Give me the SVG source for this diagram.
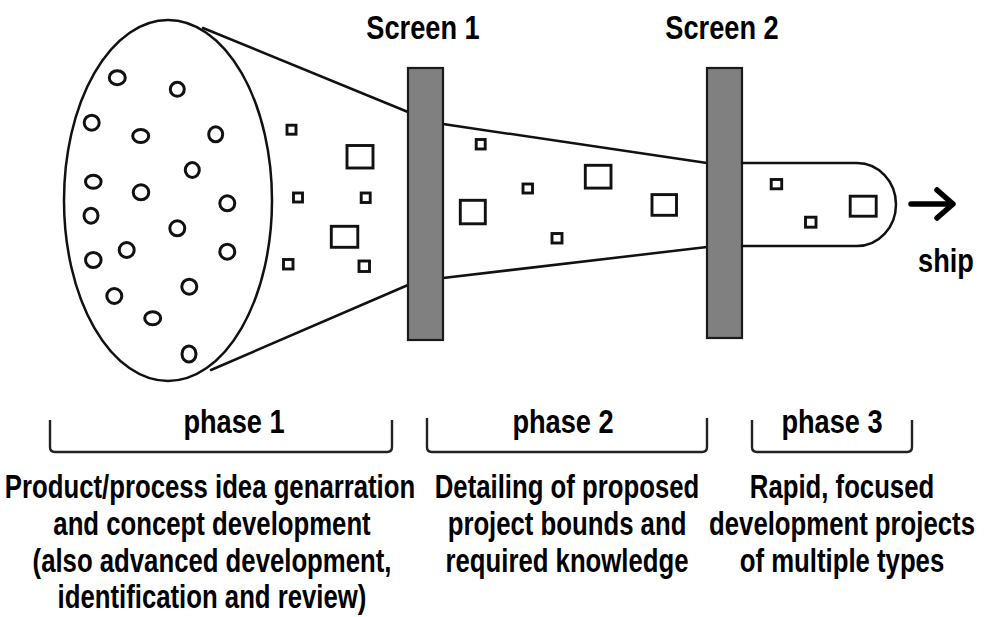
<svg xmlns="http://www.w3.org/2000/svg" width="988" height="617" viewBox="0 0 988 617">
  <style>
    .ln { fill: none; stroke: #111; stroke-width: 2.5; stroke-linecap: round; }
    .idea { fill: none; stroke: #111; stroke-width: 3; }
    .proj { fill: none; stroke: #111; stroke-width: 2.9; }
    .screen { fill: #808080; stroke: #1a1a1a; stroke-width: 2.2; }
    .brk { fill: none; stroke: #222; stroke-width: 2.4; }
    .t { font-family: "Liberation Sans", Arial, sans-serif; font-weight: bold; fill: #000; text-anchor: middle; }
    .title { font-size: 34px; }
    .lbl { font-size: 34px; }
    .body { font-size: 33px; }
  </style>
  <rect width="988" height="617" fill="#fff"/>

  <!-- funnel outline and shipping arrow -->
  <g id="connectors">
    <line class="ln" x1="203" y1="28" x2="408" y2="112"/>
    <line class="ln" x1="211" y1="370" x2="408" y2="285"/>
    <line class="ln" x1="443" y1="124" x2="707" y2="163"/>
    <line class="ln" x1="443" y1="278" x2="707" y2="247"/>
    <g stroke="#000" stroke-width="5.5" fill="none" stroke-linecap="round" stroke-linejoin="round">
      <line x1="911" y1="204" x2="951" y2="204"/>
      <polyline points="937,190 953,204 937,218"/>
    </g>
  </g>

  <!-- phase 1: idea pool -->
  <g id="idea-pool">
    <ellipse class="ln" cx="168" cy="200.5" rx="104" ry="180.5"/>
    <g class="idea">
      <ellipse cx="117.3" cy="77.7" rx="8" ry="7"/>
      <ellipse cx="177.3" cy="89.3" rx="7" ry="7"/>
      <ellipse cx="91.7" cy="122.7" rx="7.5" ry="7.5"/>
      <ellipse cx="140.7" cy="136" rx="8" ry="6.5"/>
      <ellipse cx="215.7" cy="134.3" rx="7" ry="7.5"/>
      <ellipse cx="192.3" cy="170" rx="7" ry="7.5"/>
      <ellipse cx="93.3" cy="181.7" rx="7.8" ry="6.5"/>
      <ellipse cx="141" cy="192.3" rx="7.8" ry="7.5"/>
      <ellipse cx="227.3" cy="203.3" rx="7.5" ry="7.5"/>
      <ellipse cx="91" cy="215.7" rx="7" ry="7.5"/>
      <ellipse cx="177.3" cy="228.3" rx="7.5" ry="7.5"/>
      <ellipse cx="126.7" cy="250" rx="7.5" ry="7.5"/>
      <ellipse cx="93.3" cy="260" rx="7.8" ry="7.5"/>
      <ellipse cx="227.3" cy="251.7" rx="7.5" ry="7.5"/>
      <ellipse cx="114.3" cy="296" rx="7.5" ry="7.5"/>
      <ellipse cx="189.3" cy="286.7" rx="7.5" ry="7.5"/>
      <ellipse cx="152.7" cy="318.3" rx="8" ry="6.5"/>
      <ellipse cx="189" cy="354" rx="7" ry="8"/>
    </g>
    <g class="proj">
      <rect x="287" y="125.2" width="9" height="9"/>
      <rect x="347" y="145.5" width="26" height="22.5"/>
      <rect x="293.5" y="193" width="9" height="9"/>
      <rect x="361.2" y="193" width="9" height="9.5"/>
      <rect x="331.3" y="226.3" width="26.5" height="21"/>
      <rect x="283.5" y="259.5" width="9.5" height="9.5"/>
      <rect x="359" y="261" width="10.5" height="10.5"/>
    </g>
  </g>

  <!-- screen 1 -->
  <g id="screen-1">
    <rect class="screen" x="408" y="68" width="35" height="272"/>
    <text class="t title" transform="translate(423 39) scale(0.8 1)">Screen 1</text>
  </g>

  <!-- phase 2: detailed proposals -->
  <g id="proposals">
    <g class="proj">
      <rect x="476.2" y="139.5" width="9" height="9.5"/>
      <rect x="460.3" y="200.3" width="25" height="23.5"/>
      <rect x="523" y="184" width="9.5" height="9"/>
      <rect x="585.3" y="165.3" width="25.7" height="22.8"/>
      <rect x="552" y="233.5" width="10" height="9.5"/>
      <rect x="652" y="194.6" width="24.5" height="20.7"/>
    </g>
  </g>

  <!-- screen 2 -->
  <g id="screen-2">
    <rect class="screen" x="707" y="68" width="35" height="270"/>
    <text class="t title" transform="translate(722 39) scale(0.8 1)">Screen 2</text>
  </g>

  <!-- phase 3: development projects -->
  <g id="development">
    <path class="ln" d="M742,163 H857 A39,41.5 0 0 1 857,246 H742"/>
    <g class="proj">
      <rect x="771.2" y="179.5" width="10.5" height="9.3"/>
      <rect x="805.5" y="217.2" width="10.5" height="10"/>
      <rect x="850.2" y="196.2" width="26" height="20"/>
    </g>
    <text class="t lbl" transform="translate(946 272) scale(0.8 1)">ship</text>
  </g>

  <!-- phase brackets and descriptions -->
  <g id="phase-1">
    <path class="brk" d="M50,420 V447 Q50,452 55,452 H387 Q392,452 392,447 V420"/>
    <text class="t lbl" transform="translate(234 433) scale(0.8 1)">phase 1</text>
    <text class="t body" transform="translate(210 498) scale(0.78 1)">Product/process idea genarration</text>
    <text class="t body" transform="translate(212 535) scale(0.78 1)">and concept development</text>
    <text class="t body" transform="translate(212 572) scale(0.78 1)">(also advanced development,</text>
    <text class="t body" transform="translate(212 608) scale(0.78 1)">identification and review)</text>
  </g>
  <g id="phase-2">
    <path class="brk" d="M427,418 V447 Q427,452 432,452 H702 Q707,452 707,447 V418"/>
    <text class="t lbl" transform="translate(563 433) scale(0.8 1)">phase 2</text>
    <text class="t body" transform="translate(567 498) scale(0.78 1)">Detailing of proposed</text>
    <text class="t body" transform="translate(567 535) scale(0.78 1)">project bounds and</text>
    <text class="t body" transform="translate(567 572) scale(0.78 1)">required knowledge</text>
  </g>
  <g id="phase-3">
    <path class="brk" d="M752,420 V447 Q752,452 757,452 H907 Q912,452 912,447 V420"/>
    <text class="t lbl" transform="translate(832 433) scale(0.8 1)">phase 3</text>
    <text class="t body" transform="translate(842 498) scale(0.78 1)">Rapid, focused</text>
    <text class="t body" transform="translate(842 535) scale(0.78 1)">development projects</text>
    <text class="t body" transform="translate(842 572) scale(0.78 1)">of multiple types</text>
  </g>
</svg>
